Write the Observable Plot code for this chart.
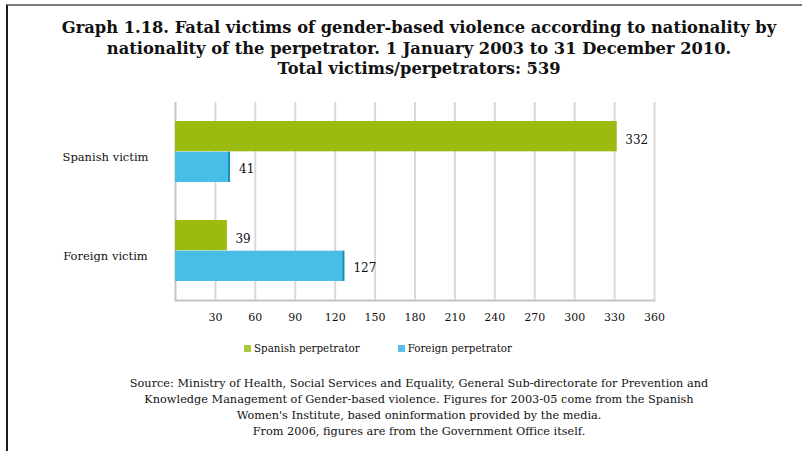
<!DOCTYPE html>
<html><head><meta charset="utf-8">
<script src="https://cdn.jsdelivr.net/npm/d3@7"></script>
<script src="https://cdn.jsdelivr.net/npm/@observablehq/plot@0.6"></script>
<style>
body{margin:0;background:#fff;font-family:"DejaVu Serif",serif;color:#111;width:802px;height:451px;overflow:hidden;position:relative;}
#frame{position:absolute;left:6px;top:4px;width:820px;height:460px;border-top:2px solid #7a7a7a;border-left:2px solid #1a1a1a;box-sizing:border-box;}
#title{position:absolute;left:36px;width:766px;top:18px;text-align:center;font-weight:bold;font-size:16.3px;line-height:20.5px;}
#chart{position:absolute;left:0;top:90px;}
#legend{position:absolute;left:244px;top:342px;font-size:10.3px;display:flex;align-items:center;}
#legend .item{display:flex;align-items:center;}
#legend .sw{width:7px;height:7px;margin-right:3px;}
#caption{position:absolute;left:36px;width:766px;top:376px;text-align:center;font-size:11.3px;line-height:16px;}
</style></head><body>
<div id="frame"></div>
<div id="title"></div>
<div id="chart"></div>
<div id="legend"></div>
<div id="caption"></div>
<script>
const titleLines = [
  "Graph 1.18. Fatal victims of gender-based violence according to nationality by",
  "nationality of the perpetrator. 1 January 2003 to 31 December 2010.",
  "Total victims/perpetrators: 539"
];
const captionLines = [
  "Source: Ministry of Health, Social Services and Equality, General Sub-directorate for Prevention and",
  "Knowledge Management of Gender-based violence. Figures for 2003-05 come from the Spanish",
  "Women's Institute, based oninformation provided by the media.",
  "From 2006, figures are from the Government Office itself."
];
const victims = ["Spanish victim", "Foreign victim"];
const perpetrators = ["Spanish perpetrator", "Foreign perpetrator"];
const spanishPerpetrator = [332, 39];
const foreignPerpetrator = [41, 127];
const xTicks = [30, 60, 90, 120, 150, 180, 210, 240, 270, 300, 330, 360];
const colors = ["#9bbb11", "#47bde8"];
const legendColors = ["#a9c837", "#55c1ea"];

document.getElementById("title").innerHTML = titleLines.join("<br>");
document.getElementById("caption").innerHTML = captionLines.join("<br>");

const spanishData = victims.map((v, i) => ({victim: v, perp: perpetrators[0], value: spanishPerpetrator[i]}));
const foreignData = victims.map((v, i) => ({victim: v, perp: perpetrators[1], value: foreignPerpetrator[i]}));
const half = 30.7;

const chart = Plot.plot({
  width: 802, height: 240,
  marginLeft: 175, marginRight: 148, marginTop: 12, marginBottom: 30,
  style: {fontFamily: "DejaVu Serif", fontSize: "11px", color: "#111", background: "transparent"},
  x: {domain: [0, 360], ticks: xTicks, tickSize: 0, tickPadding: 13, label: null, line: true},
  y: {domain: victims, paddingInner: 0.38, paddingOuter: 0.19, tickSize: 0, tickPadding: 70, label: null},
  marks: [
    Plot.ruleX(xTicks, {stroke: "#d9d9d9", strokeWidth: 2}),
    Plot.ruleX([0], {stroke: "#c4c4c4", strokeWidth: 2}),
    Plot.barX(spanishData, {x: "value", y: "victim", fill: colors[0], insetBottom: half}),
    Plot.barX(foreignData, {x: "value", y: "victim", fill: colors[1], insetTop: half}),
    Plot.tickX(foreignData, {x: "value", y: "victim", stroke: "#1d8fb9", strokeWidth: 2, insetTop: half, dx: -1}),
    Plot.text(spanishData, {x: "value", y: "victim", text: d => String(d.value), textAnchor: "start", dx: 8, dy: -half / 2 + 4, fontSize: 12}),
    Plot.text(foreignData, {x: "value", y: "victim", text: d => String(d.value), textAnchor: "start", dx: 9, dy: half / 2 + 2, fontSize: 12})
  ]
});
document.getElementById("chart").appendChild(chart);
d3.select(chart).selectAll("[aria-label='y-axis tick label'] text").attr("text-anchor", "middle").attr("font-size", 11.5).attr("dy", "0.42em");
d3.select(chart).selectAll("[stroke='currentColor']").attr("stroke", "#c4c4c4").attr("stroke-width", 2);

const leg = document.getElementById("legend");
perpetrators.forEach((p, i) => {
  const item = document.createElement("div");
  item.className = "item";
  item.style.marginRight = i === 0 ? "38px" : "0";
  const sw = document.createElement("div");
  sw.className = "sw";
  sw.style.background = legendColors[i];
  const t = document.createElement("span");
  t.textContent = p;
  item.appendChild(sw); item.appendChild(t);
  leg.appendChild(item);
});
</script>
</body></html>
